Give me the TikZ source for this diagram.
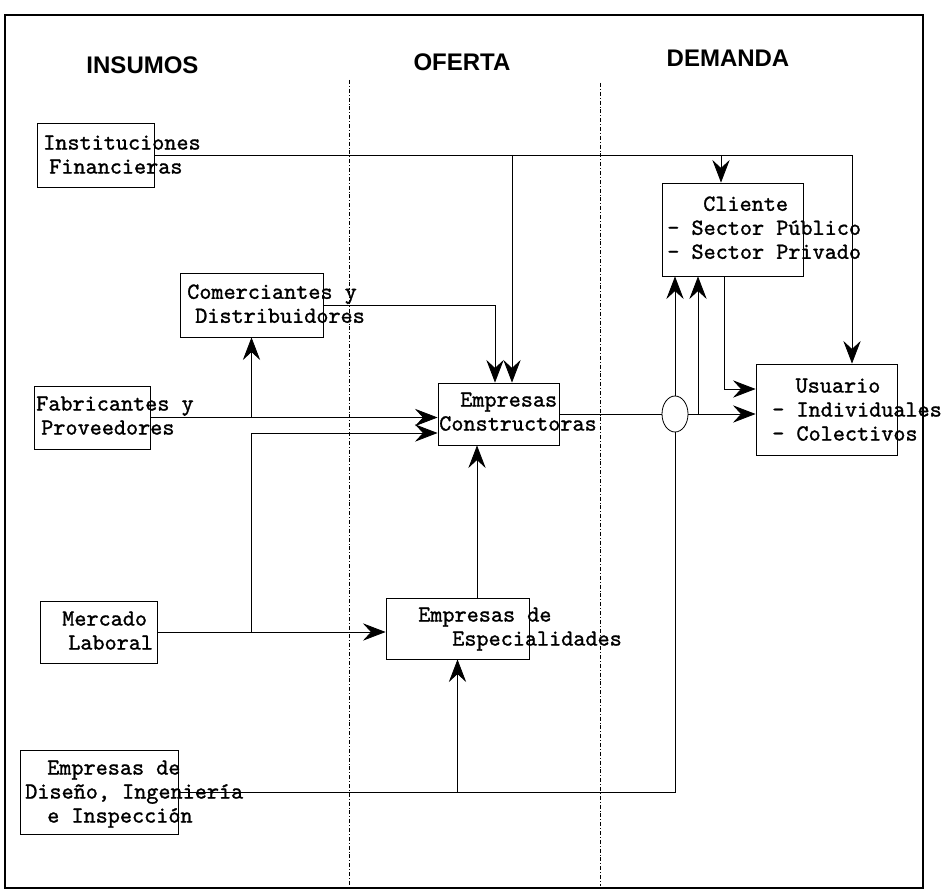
\documentclass[tikz,border=0pt]{standalone}
\usepackage{fontspec}
\newfontfamily\titulo{Liberation Sans}
\newfontfamily\maquina{lmmono10-regular.otf}[FakeBold=1.2]
\usetikzlibrary{arrows.meta,shapes.geometric,fit,calc}

\tikzset{
  caja/.style={draw, inner sep=0pt, line width=0.6pt},
  rotulo/.style={anchor=north west, inner sep=0pt, align=left,
    font=\maquina\fontsize{17.3}{18}\selectfont, execute at begin node=\strut},
  encabezado/.style={anchor=base, inner sep=0pt, font=\titulo\bfseries\fontsize{18}{20}\selectfont},
  linea/.style={line width=0.6pt},
  flecha/.style={line width=0.6pt, -{Stealth[length=17pt, width=13pt, inset=6pt]}},
  division/.style={line width=0.5pt, dash pattern=on 3pt off 1.5pt on 0.6pt off 1.5pt},
}

\begin{document}
\begin{tikzpicture}[x=0.75pt,y=0.75pt,yscale=-1,xscale=1]
\useasboundingbox (0,0) rectangle (944,891);

%Shape: Frame
\draw [line width=1.5pt] (5,15) rectangle (923,888);
%Straight Lines: column dividers
\draw [division] (349,80) -- (349,886);
\draw [division] (600,83) -- (600,886);

% Headings
\node [encabezado] (h-ins) at (142.5,74) {INSUMOS};
\node [encabezado] (h-ofe) at (462,71) {OFERTA};
\node [encabezado] (h-dem) at (728,67) {DEMANDA};

%Shape: Boxes
\node [caja, fit={(37,123) (154,187)}] (inst) {};
\node [caja, fit={(180,273) (323,337)}] (com) {};
\node [caja, fit={(34,386) (150,449)}] (fab) {};
\node [caja, fit={(438,383) (559,445)}] (cons) {};
\node [caja, fit={(662,183) (803,276)}] (cli) {};
\node [caja, fit={(756,364) (897,455)}] (usu) {};
\node [caja, fit={(40,601) (157,663)}] (mer) {};
\node [caja, fit={(386,598) (529,659)}] (esp) {};
\node [caja, fit={(20,750) (178,834)}] (dis) {};
%Shape: Ellipse
\node [draw, ellipse, line width=0.6pt, inner sep=0pt, minimum width=19.5pt, minimum height=27pt] (ovalo) at (675,414) {};

% Text Node
\node [rotulo] (t-inst) at (43,135.2) {Instituciones\\\hspace*{4.5pt}Financieras};
\node [rotulo] (t-com) at (187,284.2) {Comerciantes y\\\hspace*{6pt}Distribuidores};
\node [rotulo] (t-fab) at (36,396.2) {Fabricantes y\\\hspace*{3.75pt}Proveedores};
\node [rotulo] (t-cons) at (439,392.2) {\hspace*{15.75pt}Empresas\\Constructoras};
\node [rotulo] (t-cli) at (667,196.2) {\hspace*{27pt}Cliente\\- Sector Público\\- Sector Privado};
\node [rotulo] (t-usu) at (772,378.2) {\hspace*{17.5pt}Usuario\\- Individuales\\- Colectivos};
\node [rotulo] (t-mer) at (62,611.2) {Mercado\\\hspace*{4.5pt}Laboral};
\node [rotulo] (t-esp) at (418,607.2) {Empresas de\\\hspace*{25.5pt}Especialidades};
\node [rotulo] (t-dis) at (25,760.2) {\hspace*{16.5pt}Empresas de\\Diseño, Ingeniería\\\hspace*{16.5pt}e Inspección};

%Straight Lines: Instituciones Financieras
\coordinate (b1) at (512,155);
\coordinate (b2) at (721,155);
\coordinate (b3) at (852,155);
\draw [flecha] (inst.east) -- (b3) -- (b3 |- usu.north);
\draw [flecha] (b1) -- (b1 |- cons.north);
\draw [flecha] (b2) -- (b2 |- cli.north);
%Straight Lines: Comerciantes y Distribuidores
\draw [flecha] (com.east) -| ($(cons.north)+(-3.5,0)$);
%Straight Lines: Fabricantes y Proveedores
\draw [flecha] (fab.east) -- (fab.east -| cons.west);
\draw [flecha] (fab.east -| com.south) -- (com.south);
%Straight Lines: Mercado Laboral
\draw [flecha] (mer.east) -- (mer.east -| esp.west);
\draw [flecha] (mer.east -| com.south) |- ($(cons.west)+(0,19)$);
%Straight Lines: Especialidades
\coordinate (b4) at ($(esp.north)+(19.5,0)$);
\draw [flecha] (b4) -- (b4 |- cons.south);
%Straight Lines: Constructoras to demand
\draw [linea] (cons.east) -- (ovalo.west);
\draw [flecha] (ovalo.east) -- (ovalo.east -| usu.west);
\draw [flecha] (ovalo.north) -- (ovalo.north |- cli.south);
\coordinate (b5) at (698,414);
\draw [flecha] (b5) -- (b5 |- cli.south);
\draw [flecha] ($(cli.south)+(-8.5,0)$) |- ($(usu.west)+(0,-20.5)$);
%Straight Lines: Diseno, Ingenieria e Inspeccion
\draw [linea] (dis.east) -| (ovalo.south);
\draw [flecha] (dis.east -| esp.south) -- (esp.south);

\end{tikzpicture}
\end{document}
